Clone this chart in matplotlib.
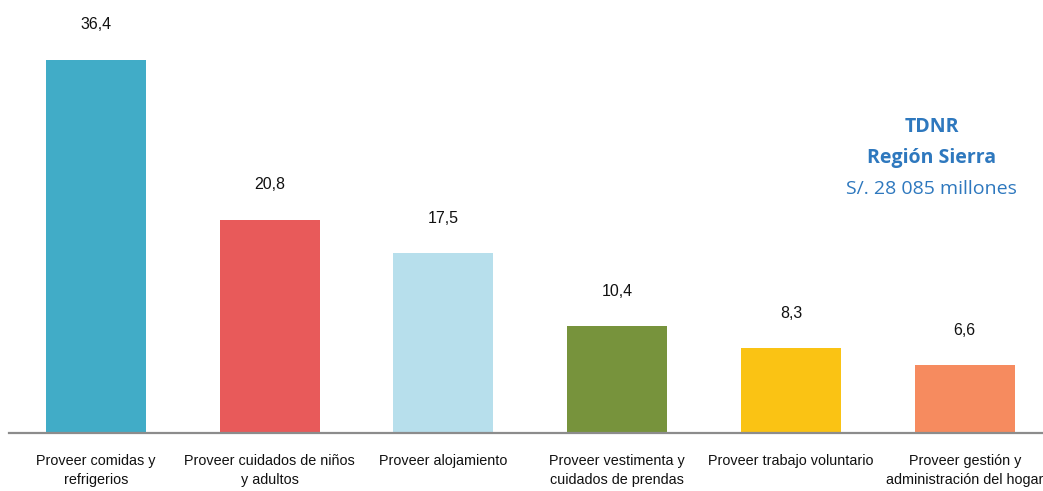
import matplotlib
matplotlib.use("Agg")
import matplotlib.pyplot as plt

categorias = ["Proveer comidas y\nrefrigerios",
              "Proveer cuidados de niños\ny adultos",
              "Proveer alojamiento",
              "Proveer vestimenta y\ncuidados de prendas",
              "Proveer trabajo voluntario",
              "Proveer gestión y\nadministración del hogar"]
valores = [36.4, 20.8, 17.5, 10.4, 8.3, 6.6]
etiquetas = ["36,4", "20,8", "17,5", "10,4", "8,3", "6,6"]
colores = ["#41ACC7", "#E85A5A", "#B7DFEC", "#77933C", "#FAC314", "#F68B5F"]

narrow = ["Liberation Sans", "DejaVu Sans"]

fig = plt.figure(figsize=(10.43, 4.91), dpi=100)
ax = fig.add_axes([9 / 1043, 58 / 491, 1 - 9 / 1043, 433 / 491])

x = range(len(valores))
ax.bar(x, valores, width=0.575, color=colores)
ax.set_xlim(-0.5, 5.45)
ax.set_ylim(0, 42.2)

for i, v in enumerate(valores):
    ax.annotate(etiquetas[i], (i, v), xytext=(0, 25), textcoords="offset points",
                ha="center", va="center", fontsize=11.5, family=narrow, color="#111111")

ax.set_xticks(list(x))
ax.set_xticklabels(categorias, fontsize=10.4, family=narrow, color="#111111", linespacing=1.5)
ax.tick_params(axis="x", length=0, pad=15)
ax.set_yticks([])
for s in ["top", "right", "left"]:
    ax.spines[s].set_visible(False)
ax.spines["bottom"].set_color("#8C8C8C")
ax.spines["bottom"].set_linewidth(1.6)

azul = "#2E78BE"
cx = 0.893
ax.text(cx, 0.741, "TDNR", transform=fig.transFigure, ha="center", va="center",
        fontsize=14, fontweight="bold", color=azul, family=["Open Sans", "DejaVu Sans"])
ax.text(cx, 0.678, "Región Sierra", transform=fig.transFigure, ha="center", va="center",
        fontsize=14, fontweight="bold", color=azul, family=["Open Sans", "DejaVu Sans"])
ax.text(cx, 0.615, "S/. 28 085 millones", transform=fig.transFigure, ha="center", va="center",
        fontsize=14, color=azul, family=["Open Sans", "DejaVu Sans"])

fig.savefig("out.png", dpi=100)
